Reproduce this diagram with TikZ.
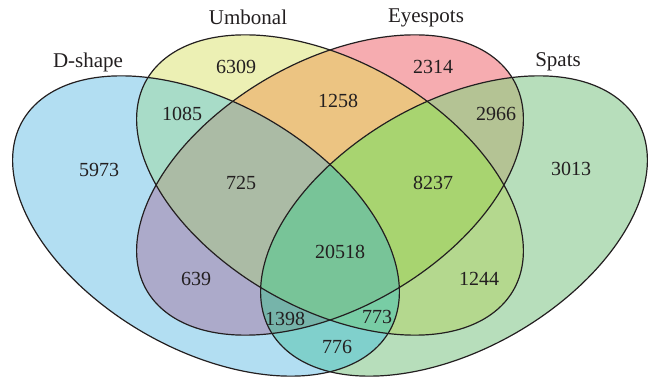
\documentclass[tikz,border=0pt]{standalone}
\usepackage{fontspec}
\setmainfont{Liberation Serif}
\definecolor{cA}{RGB}{178,222,242}
\definecolor{cB}{RGB}{236,240,180}
\definecolor{cC}{RGB}{246,172,176}
\definecolor{cD}{RGB}{183,222,187}
\definecolor{cAB}{RGB}{168,220,200}
\definecolor{cBC}{RGB}{236,196,130}
\definecolor{cCD}{RGB}{180,195,148}
\definecolor{cAC}{RGB}{172,170,202}
\definecolor{cBD}{RGB}{180,216,142}
\definecolor{cAD}{RGB}{128,208,204}
\definecolor{cABC}{RGB}{171,187,165}
\definecolor{cBCD}{RGB}{168,212,112}
\definecolor{cABD}{RGB}{120,205,165}
\definecolor{cACD}{RGB}{118,180,170}
\definecolor{cABCD}{RGB}{120,196,152}
\definecolor{txt}{RGB}{35,31,32}
\def\ellA{[shift={(206pt,151pt)},xscale=1.288,rotate=-45] (0,0) ellipse [x radius=180pt,y radius=112.6pt]}
\def\ellB{[shift={(330pt,192pt)},xscale=1.288,rotate=-45] (0,0) ellipse [x radius=180pt,y radius=112.6pt]}
\def\ellC{[shift={(330pt,192pt)},xscale=1.288,rotate=45] (0,0) ellipse [x radius=180pt,y radius=112.6pt]}
\def\ellD{[shift={(454pt,151pt)},xscale=1.288,rotate=45] (0,0) ellipse [x radius=180pt,y radius=112.6pt]}
\newcommand{\regfill}[1]{\fill[#1] (0pt,0pt) rectangle (652pt,377pt);}
\tikzset{
  outline/.style={draw=txt, line width=1.2pt},
  num/.style={font=\fontsize{20}{22}\selectfont, inner sep=0pt, text=txt},
  setlab/.style={font=\fontsize{21}{23}\selectfont, inner sep=0pt, text=txt}
}
\begin{document}
\begin{tikzpicture}[x=1pt,y=1pt]
\useasboundingbox (0,0) rectangle (652,377);
% single sets
\fill[cA] \ellA;
\fill[cB] \ellB;
\fill[cC] \ellC;
\fill[cD] \ellD;
% pairs
\begin{scope}\clip\ellA;\clip\ellB;\regfill{cAB}\end{scope}
\begin{scope}\clip\ellB;\clip\ellC;\regfill{cBC}\end{scope}
\begin{scope}\clip\ellC;\clip\ellD;\regfill{cCD}\end{scope}
\begin{scope}\clip\ellA;\clip\ellC;\regfill{cAC}\end{scope}
\begin{scope}\clip\ellB;\clip\ellD;\regfill{cBD}\end{scope}
\begin{scope}\clip\ellA;\clip\ellD;\regfill{cAD}\end{scope}
% triples
\begin{scope}\clip\ellA;\clip\ellB;\clip\ellC;\regfill{cABC}\end{scope}
\begin{scope}\clip\ellB;\clip\ellC;\clip\ellD;\regfill{cBCD}\end{scope}
\begin{scope}\clip\ellA;\clip\ellB;\clip\ellD;\regfill{cABD}\end{scope}
\begin{scope}\clip\ellA;\clip\ellC;\clip\ellD;\regfill{cACD}\end{scope}
% all four
\begin{scope}\clip\ellA;\clip\ellB;\clip\ellC;\clip\ellD;\regfill{cABCD}\end{scope}
% outlines
\draw[outline] \ellA;
\draw[outline] \ellB;
\draw[outline] \ellC;
\draw[outline] \ellD;
% set labels
\node[setlab] (lA) at (88,315) {D-shape};
\node[setlab] (lB) at (248,360) {Umbonal};
\node[setlab] (lC) at (426,359) {Eyespots};
\node[setlab] (lD) at (558,315) {Spats};
% counts
\node[num] (nA) at (99,207) {5973};
\node[num] (nB) at (236,310) {6309};
\node[num] (nC) at (433,310) {2314};
\node[num] (nD) at (571,208) {3013};
\node[num] (nAB) at (182,263) {1085};
\node[num] (nBC) at (338,276) {1258};
\node[num] (nCD) at (496,263) {2966};
\node[num] (nABC) at (241,194) {725};
\node[num] (nBCD) at (433,194) {8237};
\node[num] (nABCD) at (340,125) {20518};
\node[num] (nAC) at (196,98) {639};
\node[num] (nBD) at (479,98) {1244};
\node[num] (nACD) at (285,58) {1398};
\node[num] (nABD) at (377,60) {773};
\node[num] (nAD) at (337,30) {776};
\end{tikzpicture}
\end{document}
